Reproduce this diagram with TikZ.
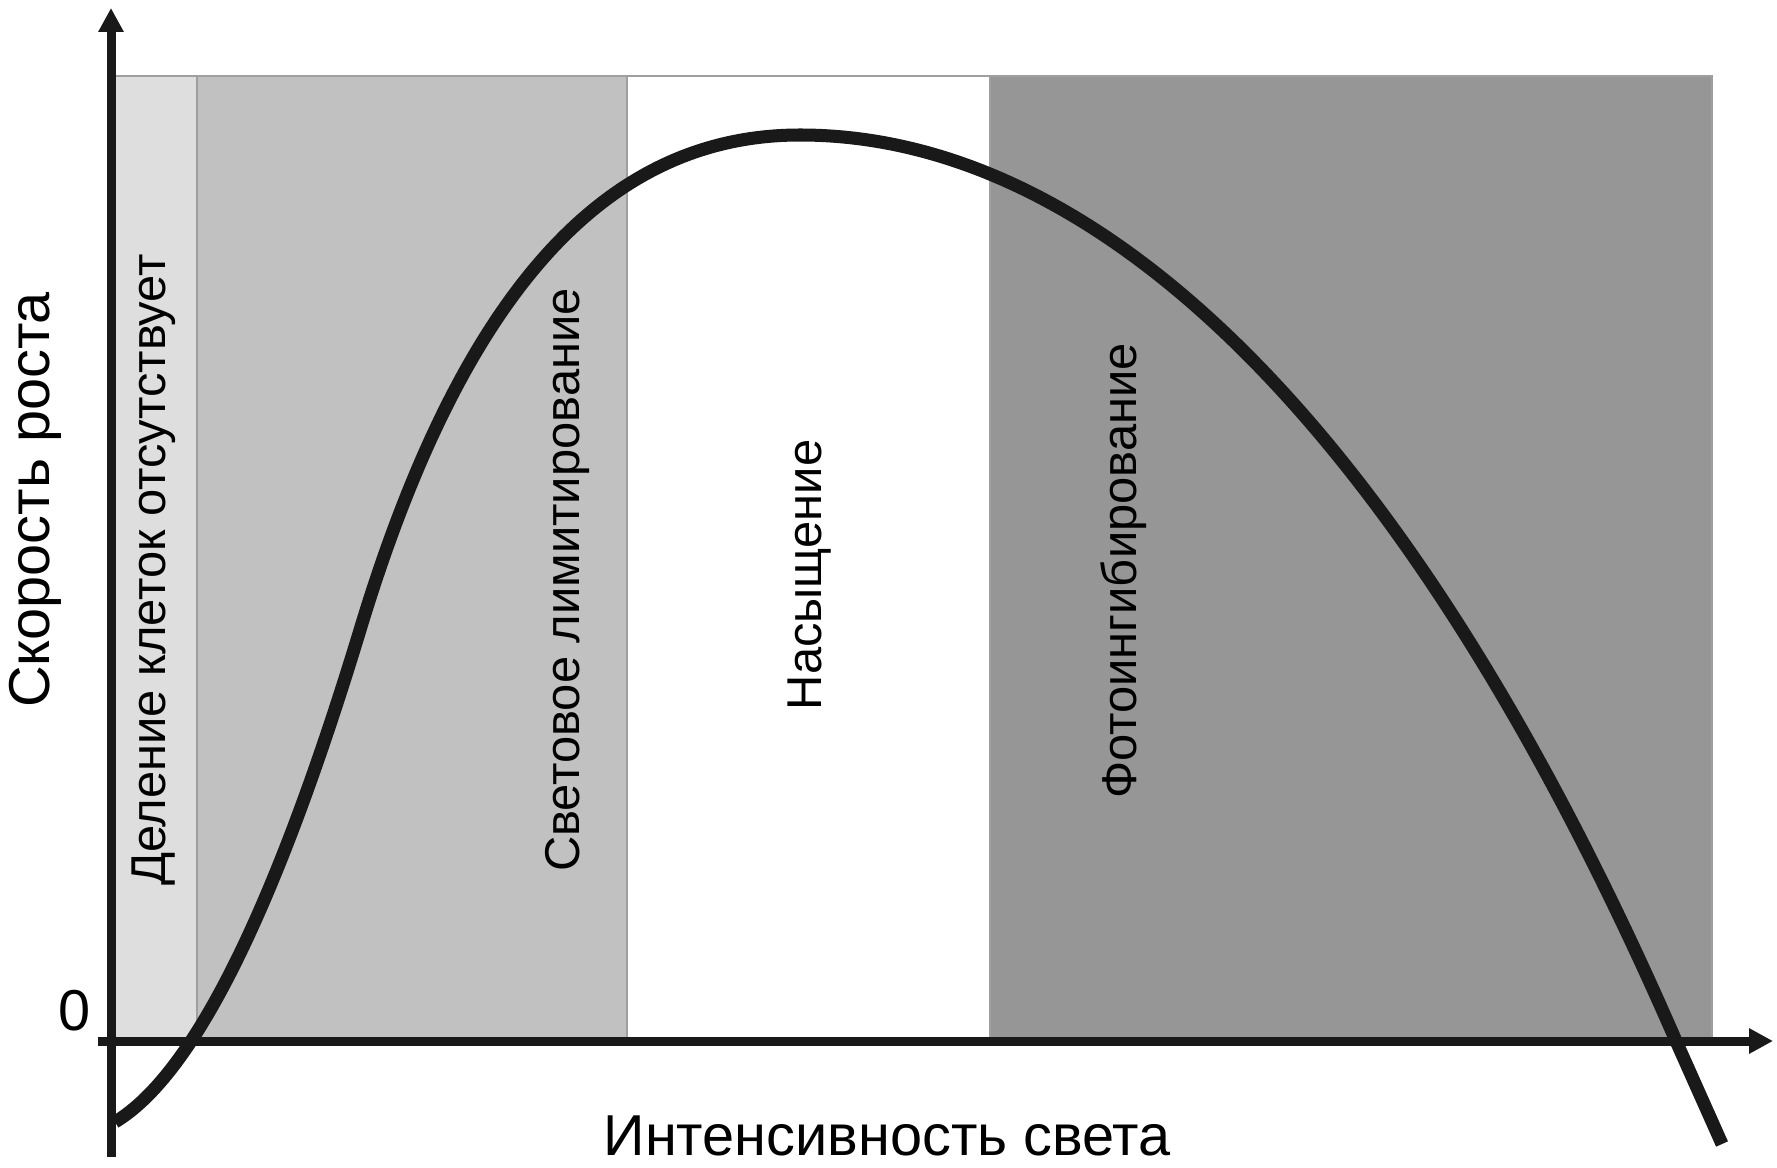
\documentclass[tikz,border=0pt]{standalone}
\usepackage{fontspec}
\setmainfont{Liberation Sans}
\usetikzlibrary{arrows.meta}

\definecolor{bandlight}{gray}{0.87}
\definecolor{bandmid}{gray}{0.755}
\definecolor{banddark}{gray}{0.59}
\definecolor{curvegray}{gray}{0.1}

\begin{document}
\begin{tikzpicture}[x=0.01cm, y=-0.01cm,
    band/.style={draw=gray!75, line width=0.4pt},
    bandlabel/.style={rotate=90, inner sep=0pt, font=\fontsize{13.9}{16}\selectfont},
    axislabel/.style={inner sep=0pt, font=\fontsize{16.4}{19}\selectfont},
    axisline/.style={curvegray, line width=2.56pt, -{Triangle[width=6.8pt,length=6.8pt]}}]
        \useasboundingbox (0,0) rectangle (1777,1167);

        % shaded zones
        \filldraw [band, fill=bandlight] (111,76) rectangle (197,1041);
        \filldraw [band, fill=bandmid] (197,76) rectangle (627,1041);
        \filldraw [band, fill=white] (627,76) rectangle (990,1041);
        \filldraw [band, fill=banddark] (990,76) rectangle (1712,1041);

        \node [bandlabel] (lblnone) at (154,570) {Деление клеток отсутствует};
        \node [bandlabel] (lbllimit) at (567,580) {Световое лимитирование};
        \node [bandlabel] (lblsat) at (810,575) {Насыщение};
        \node [bandlabel] (lblinhib) at (1124,571) {Фотоингибирование};

        % growth curve
        \draw [curvegray, line width=3.7pt] (115,1122)
            .. controls (193,1075) and (274,913) .. (360,630)
            .. controls (465,283) and (611,135) .. (800,135)
            .. controls (1089,135) and (1400,407) .. (1676,1041)
            -- (1722,1144);

        % axes
        \coordinate (ybot) at (111,1157);
        \coordinate (ytop) at (111,8);
        \coordinate (xleft) at (98,1041);
        \coordinate (xright) at (1773,1041);
        \draw [axisline] (ybot) -- (ytop);
        \draw [axisline] (xleft) -- (xright);

        \node [axislabel, rotate=90] (lblrate) at (35,500) {Скорость роста};
        \node [axislabel, anchor=base] (lbllight) at (887,1155) {Интенсивность света};
        \node [axislabel] (lblzero) at (75,1011) {0};
    \end{tikzpicture}
\end{document}
